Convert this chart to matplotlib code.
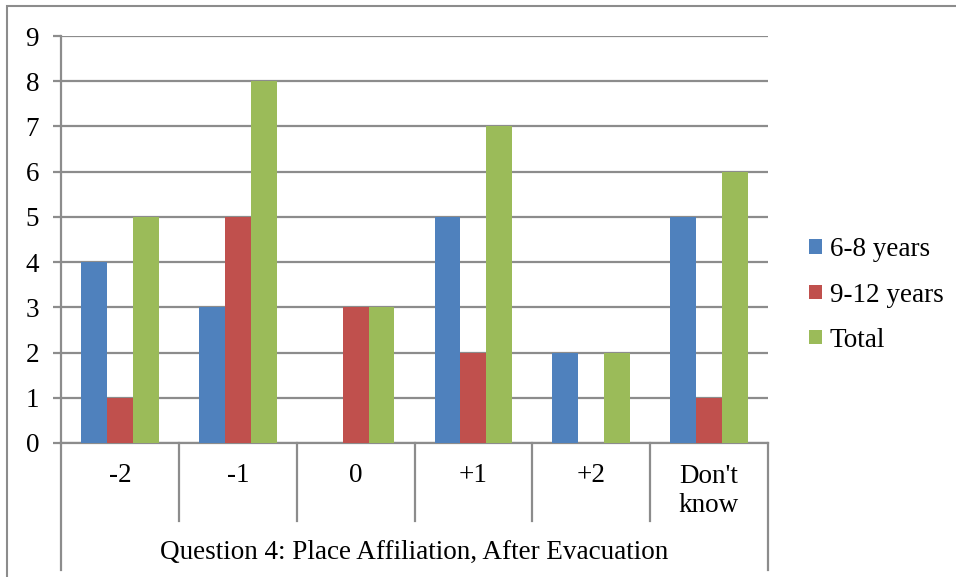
import numpy as np
import matplotlib
matplotlib.use("Agg")
import matplotlib.pyplot as plt
from matplotlib.patches import Rectangle
from matplotlib.lines import Line2D
import matplotlib.transforms as mtransforms

plt.rcParams['font.family'] = ['Liberation Serif', 'DejaVu Serif']

# datos
categorias = ['-2', '-1', '0', '+1', '+2', "Don't\nknow"]
series = ['6-8 years', '9-12 years', 'Total']
anios_6_8 = [4, 3, 0, 5, 2, 5]
anios_9_12 = [1, 5, 3, 2, 0, 1]
total = [5, 8, 3, 7, 2, 6]
colores = ['#4F81BD', '#C0504D', '#9BBB59']
titulo_grupo = 'Question 4: Place Affiliation, After Evacuation'

W, H = 956, 577
fs = 19.5
fig = plt.figure(figsize=(W / 100, H / 100), dpi=100)

# marco exterior
fig.patches.append(Rectangle((7 / W, -0.1), 2.0, (H - 6) / H + 0.1,
                             transform=fig.transFigure, fill=False,
                             edgecolor='#8c8c8c', linewidth=1.5))

x0, x1, y0, y1 = 61, 768, 443, 36
ax = fig.add_axes([x0 / W, (H - y0) / H, (x1 - x0) / W, (y0 - y1) / H])

x = np.arange(len(categorias))
ancho = 0.22
for i, (vals, nombre) in enumerate(zip([anios_6_8, anios_9_12, total], series)):
    ax.bar(x + (i - 1) * ancho, vals, ancho, color=colores[i], label=nombre,
           zorder=3)

ax.set_xlim(-0.5, len(categorias) - 0.5)
ax.set_ylim(0, 9)
ax.set_yticks(range(0, 10))
ax.yaxis.grid(True, color='#8c8c8c', linewidth=1.6, zorder=0)
ax.set_xticks([])
for s in ['top', 'right']:
    ax.spines[s].set_visible(False)
ax.spines['left'].set_color('#8c8c8c')
ax.spines['left'].set_linewidth(1.6)
ax.spines['bottom'].set_color('#8c8c8c')
ax.spines['bottom'].set_linewidth(1.6)
ax.tick_params(axis='y', length=5.8, width=1.6, color='#8c8c8c',
               labelsize=fs, pad=10)

# cajas de categorias debajo del eje
trans = mtransforms.blended_transform_factory(ax.transData, ax.transAxes)
alto = y0 - y1
bajo_cat = -(521 - 443) / alto
bajo_total = -(570 - 443) / alto
bordes = np.arange(len(categorias) + 1) - 0.5
for k, b in enumerate(bordes):
    fondo = bajo_total if k in (0, len(bordes) - 1) else bajo_cat
    ax.add_line(Line2D([b, b], [0, fondo], transform=trans, color='#8c8c8c',
                       linewidth=1.6, clip_on=False))

for xi, c in zip(x, categorias):
    yc = 491 if '\n' in c else 476
    ax.text(xi, -(yc - 443) / alto, c, transform=trans, ha='center',
            va='center', fontsize=fs, linespacing=1.2)

ax.text(0.5, -(552 - 443) / alto, titulo_grupo, transform=ax.transAxes,
        ha='center', va='center', fontsize=fs)

# leyenda
ax.legend(loc='center left', bbox_to_anchor=(1.024, (443 - 295) / alto),
          frameon=False, fontsize=fs, handlelength=0.45, handleheight=0.45,
          handletextpad=0.3, labelspacing=0.75)

fig.savefig('out.png', dpi=100)
